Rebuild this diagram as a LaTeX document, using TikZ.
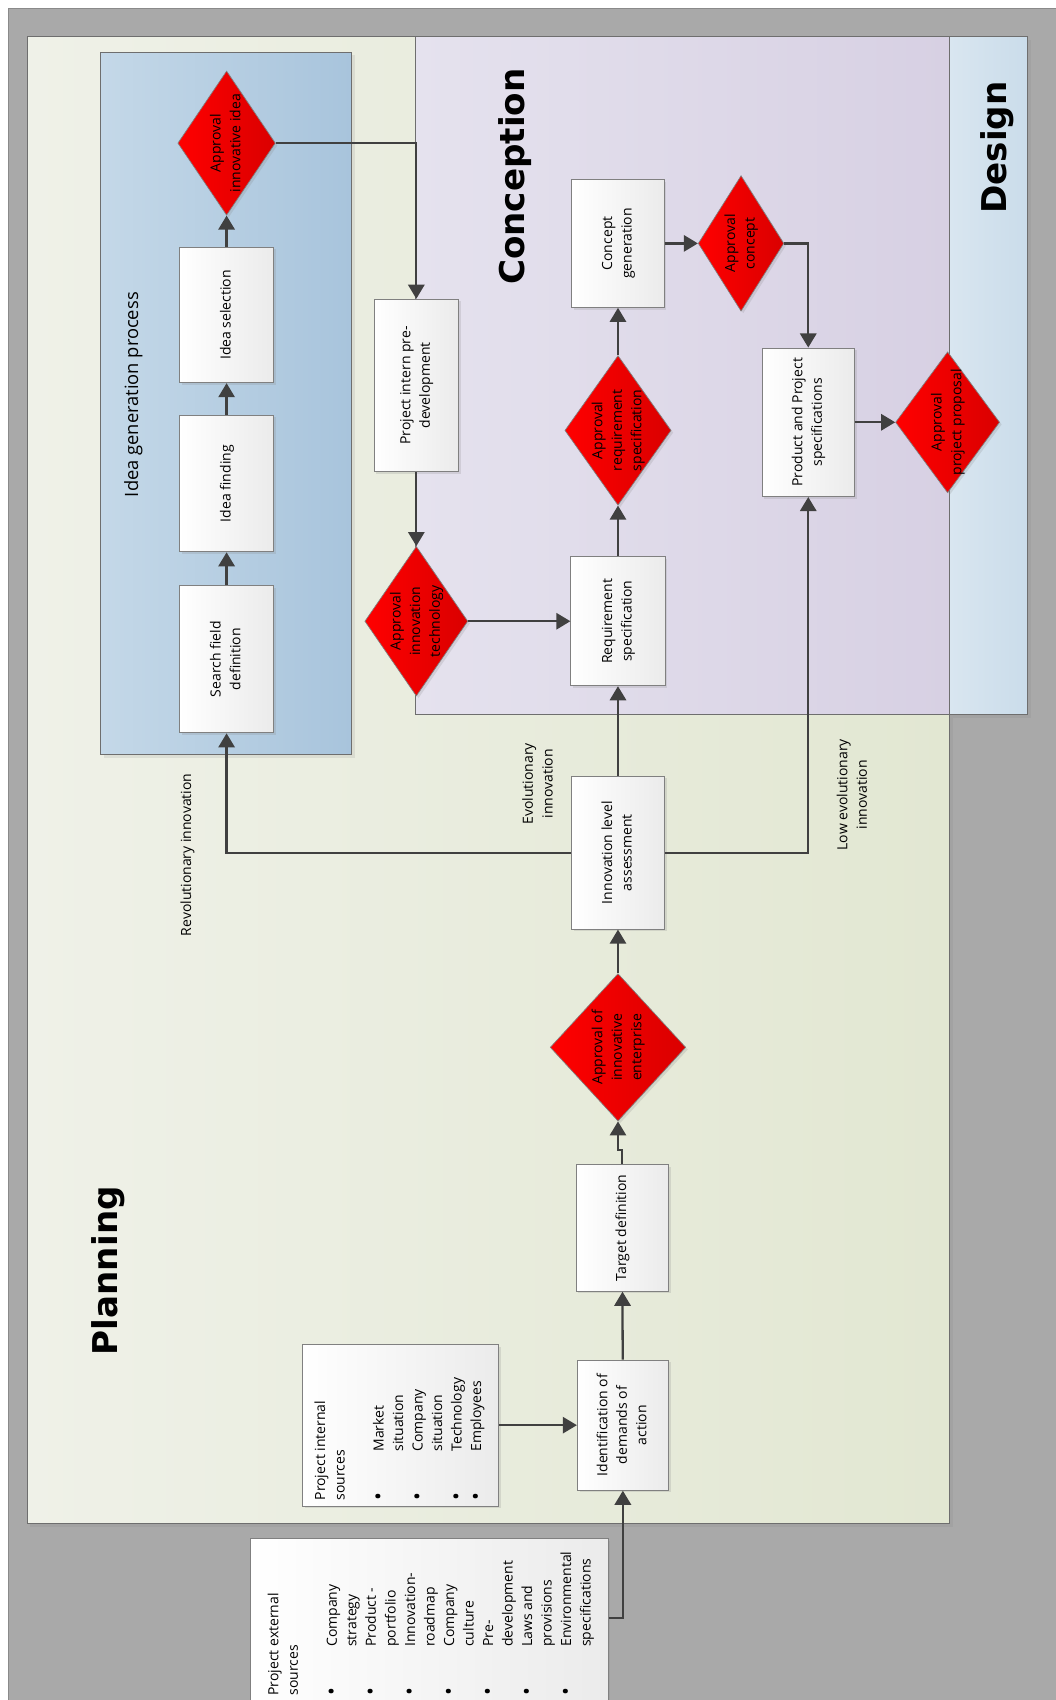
\documentclass[tikz,border=0pt]{standalone}
\usepackage{fontspec}
\setmainfont{Open Sans}
\newfontfamily\headfont{DejaVu Sans}
\usetikzlibrary{arrows.meta,shapes.geometric,shadows,positioning}

\definecolor{framegray}{HTML}{A9A9A9}
\definecolor{frameline}{HTML}{8A8A8A}
\definecolor{planleft}{HTML}{EFF1E8}
\definecolor{planright}{HTML}{E2E7D2}
\definecolor{concleft}{HTML}{E5E2EE}
\definecolor{concright}{HTML}{D7D0E3}
\definecolor{desleft}{HTML}{D9E6F0}
\definecolor{desright}{HTML}{CADCEA}
\definecolor{idealeft}{HTML}{C4D8E8}
\definecolor{idearight}{HTML}{A8C4DC}
\definecolor{panelline}{HTML}{6E6E6E}
\definecolor{boxline}{HTML}{808080}
\definecolor{boxright}{HTML}{EBEBEB}
\definecolor{gateleft}{HTML}{FF0000}
\definecolor{gateright}{HTML}{DA0000}
\definecolor{flowline}{HTML}{404040}

\newcommand{\boxfont}{\fontsize{12.9}{18}\selectfont}
\newcommand{\rt}[1]{\rotatebox{90}{\begin{tabular}{@{}c@{}}#1\end{tabular}}}
\newcommand{\rtlist}[1]{\rotatebox{90}{\begin{tabular}{@{}p{45pt}@{}l@{}}#1\end{tabular}}}
\newcommand{\srchead}[1]{\multicolumn{2}{@{}l@{}}{#1}}
\newcommand{\bul}{\raisebox{-1.8pt}{\scalebox{1.5}{\textbullet}}}

\tikzset{
  flow/.style={draw=flowline, line width=2.1pt, -{Triangle[length=13pt,width=15pt]}},
  stepbox/.style={rectangle, draw=boxline, line width=0.8pt, left color=white, right color=boxright,
    inner sep=3pt, drop shadow={shadow xshift=2pt, shadow yshift=-2pt, opacity=0.2}},
  gate/.style={diamond, draw=boxline, line width=0.6pt, left color=gateleft, right color=gateright,
    inner sep=0pt, drop shadow={shadow xshift=2pt, shadow yshift=-2pt, opacity=0.2}},
  panel/.style={draw=panelline, line width=0.8pt},
  title/.style={font=\headfont\bfseries\fontsize{31.5}{34}\selectfont, inner sep=0pt},
  tag/.style={inner sep=0pt},
}

\begin{document}
\begin{tikzpicture}[x=1pt,y=-1pt,font=\boxfont]
  \useasboundingbox (0,0) rectangle (974,1568);
  \clip (0,0) rectangle (974,1568);
  % frame and lanes
  \fill[framegray] (8,8) rectangle (990,1590);
  \draw[frameline, line width=1pt] (8,1590) -- (8,8) -- (990,8);
  \draw[panel, left color=planleft, right color=planright, drop shadow={shadow xshift=3pt, shadow yshift=-3pt, opacity=0.15}] (25,34) rectangle (876,1405);
  \draw[panel, left color=concleft, right color=concright] (383,34) rectangle (876,659);
  \draw[panel, left color=desleft, right color=desright, drop shadow={shadow xshift=3pt, shadow yshift=-3pt, opacity=0.15}] (876,34) rectangle (948,659);
  \draw[panel, left color=idealeft, right color=idearight, drop shadow={shadow xshift=3pt, shadow yshift=-3pt, opacity=0.15}] (93,48) rectangle (324,696);

  \node[title] (tplan) at (100,1172) {\rotatebox{90}{Planning}};
  \node[title] (tconc) at (475,163) {\rotatebox{90}{Conception}};
  \node[title] (tdes) at (920,136) {\rotatebox{90}{Design}};
  \node[tag, font=\fontsize{16.9}{20}\selectfont] (tidea) at (123,364) {\rotatebox{90}{Idea generation process}};

  % idea generation
  \node[stepbox, minimum width=87pt, minimum height=136pt] (sfd) at (209,608) {\rt{Search field\\definition}};
  \node[stepbox, minimum width=87pt, minimum height=126pt] (ifind) at (209,446) {\rt{Idea finding}};
  \node[stepbox, minimum width=87pt, minimum height=125pt] (isel) at (209,290.5) {\rt{Idea selection}};
  \node[gate, minimum width=90pt, minimum height=133pt, label=center:{\rt{Approval\\innovative idea}}] (aii) at (209,132) {};

  % conception
  \node[stepbox, minimum width=78pt, minimum height=159pt] (pipd) at (384,355.5) {\rt{Project intern pre-\\development}};
  \node[gate, minimum width=95pt, minimum height=138pt, label=center:{\rt{Approval\\innovation\\technology}}] (ait) at (384,573) {};
  \node[stepbox, minimum width=87pt, minimum height=119pt] (rs) at (570,573) {\rt{Requirement\\specification}};
  \node[gate, minimum width=98pt, minimum height=138pt, label=center:{\rt{Approval\\requirement\\specification}}] (ars) at (570,397) {};
  \node[stepbox, minimum width=85pt, minimum height=118pt] (cg) at (570,224.5) {\rt{Concept\\generation}};
  \node[gate, minimum width=79pt, minimum height=125pt, label=center:{\rt{Approval\\concept}}] (ac) at (683.5,224.5) {};
  \node[stepbox, minimum width=85pt, minimum height=137pt] (pps) at (745.5,389.5) {\rt{Product and Project\\specifications}};
  \node[gate, minimum width=96pt, minimum height=130pt, label=center:{\rt{Approval\\project proposal}}] (app) at (874,389.5) {};

  % planning
  \node[stepbox, minimum width=86pt, minimum height=141pt] (ila) at (570,786.5) {\rt{Innovation level\\assessment}};
  \node[gate, minimum width=125pt, minimum height=136pt, label=center:{\rt{Approval of\\innovative\\enterprise}}] (aie) at (570,966) {};
  \node[stepbox, minimum width=85pt, minimum height=117pt] (td) at (574,1132.5) {\rt{Target definition}};
  \node[stepbox, minimum width=84pt, minimum height=120pt] (ida) at (574.5,1314.5) {\rt{Identification of\\demands of\\action}};
  \node[stepbox, minimum width=181pt, minimum height=149pt] (pis) at (369.5,1314.5) {};
  \node[tag, anchor=south west] (pistext) at (287,1384) {\rtlist{\srchead{Project internal}\\ \srchead{sources}\\[18pt]
    \bul & Market\\ & situation\\ \bul & Company\\ & situation\\ \bul & Technology\\ \bul & Employees}};
  \node[stepbox, minimum width=330pt, minimum height=161pt] (pes) at (396,1499.5) {};
  \node[tag, anchor=south west] (pestext) at (244,1564) {\rtlist{\srchead{Project external}\\ \srchead{sources}\\[18pt]
    \bul & Company\\ & strategy\\ \bul & Product -\\ & portfolio\\ \bul & Innovation-\\ & roadmap\\
    \bul & Company\\ & culture\\ \bul & Pre-\\ & development\\ \bul & Laws and\\ & provisions\\
    \bul & Environmental\\ & specifications}};

  \node[tag, font=\boxfont] (lrev) at (173,788.5) {\rotatebox{90}{Revolutionary innovation}};
  \node[tag, font=\boxfont] (levo) at (497,723) {\rt{Evolutionary\\innovation}};
  \node[tag, font=\boxfont] (llow) at (787,733) {\rt{Low evolutionary\\innovation}};

  % connectors
  \draw[flow] ([yshift=7pt]pes.east) -| (ida.south);
  \draw[flow] (pis) -- (ida);
  \draw[flow] (ida) -- (td);
  \draw[flow] (td.north) -- ++(0,-13) -| (aie.south);
  \draw[flow] (aie) -- (ila);
  \draw[flow] (ila.west) -| (sfd.south);
  \draw[flow] (ila) -- (rs);
  \draw[flow] (ila.east) -| (pps.south);
  \draw[flow] (sfd) -- (ifind);
  \draw[flow] (ifind) -- (isel);
  \draw[flow] (isel) -- (aii);
  \draw[flow] (aii.east) -| (pipd.north);
  \draw[flow] (pipd) -- (ait);
  \draw[flow] (ait) -- (rs);
  \draw[flow] (rs) -- (ars);
  \draw[flow] (ars) -- (cg);
  \draw[flow] (cg) -- (ac);
  \draw[flow] (ac.east) -| (pps.north);
  \draw[flow] (pps) -- (app);
\end{tikzpicture}
\end{document}
